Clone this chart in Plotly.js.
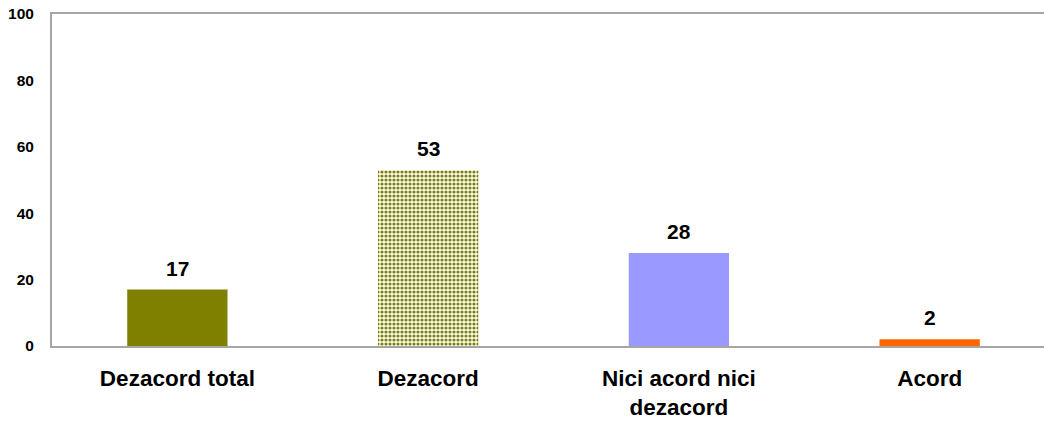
<!DOCTYPE html>
<html>
<head>
<meta charset="utf-8">
<script src="https://cdn.plot.ly/plotly-3.0.1.min.js"></script>
<style>html,body{margin:0;padding:0;background:#fff;}#chart{width:1044px;height:423px;}</style>
</head>
<body>
<div id="chart"></div>
<script>
var categories = ["Dezacord total", "Dezacord", "Nici acord nici<br>dezacord", "Acord"];
var values = [17, 53, 28, 2];
var barColors = ["#808000", "#808000", "#9999FF", "#FF6600"];
var patternShapes = ["", ".", "", ""];
var yTickVals = [0, 20, 40, 60, 80, 100];

var FONT = "Liberation Sans, Arial, sans-serif";

var trace = {
  type: "bar",
  x: categories,
  y: values,
  marker: {
    color: barColors,
    line: {width: 0},
    pattern: {
      shape: patternShapes,
      fgcolor: "#F0F0B8",
      bgcolor: "#808000",
      size: 4,
      solidity: 0.5,
      fillmode: "replace"
    }
  },
  width: 0.4,
  hoverinfo: "none",
  showlegend: false
};

var annotations = categories.map(function(c, i){
  return {
    x: c, y: values[i], xref: "x", yref: "y",
    text: String(values[i]),
    showarrow: false,
    yanchor: "bottom",
    yshift: 8,
    font: {family: FONT, size: 21, color: "#000", weight: "bold"}
  };
});

var layout = {
  width: 1044, height: 423,
  margin: {l: 52, r: 0, t: 14, b: 77},
  paper_bgcolor: "#fff",
  plot_bgcolor: "#fff",
  font: {family: FONT, color: "#000"},
  xaxis: {
    type: "category",
    range: [-0.5, 3.456],
    showline: true, mirror: true,
    linecolor: "#A6A6A6", linewidth: 2,
    showgrid: false, zeroline: false,
    ticks: "",
    tickfont: {family: FONT, size: 22.5, color: "#000", weight: "bold"},
    ticklabelstandoff: 11
  },
  yaxis: {
    range: [0, 100],
    tickvals: yTickVals,
    ticktext: yTickVals.map(String),
    showline: true,
    linecolor: "#A6A6A6", linewidth: 2,
    showgrid: false, zeroline: false,
    ticks: "",
    tickfont: {family: FONT, size: 15.5, color: "#000", weight: "bold"},
    ticklabelstandoff: 13
  },
  annotations: annotations
};

Plotly.newPlot("chart", [trace], layout, {staticPlot: true, displayModeBar: false});
</script>
</body>
</html>
